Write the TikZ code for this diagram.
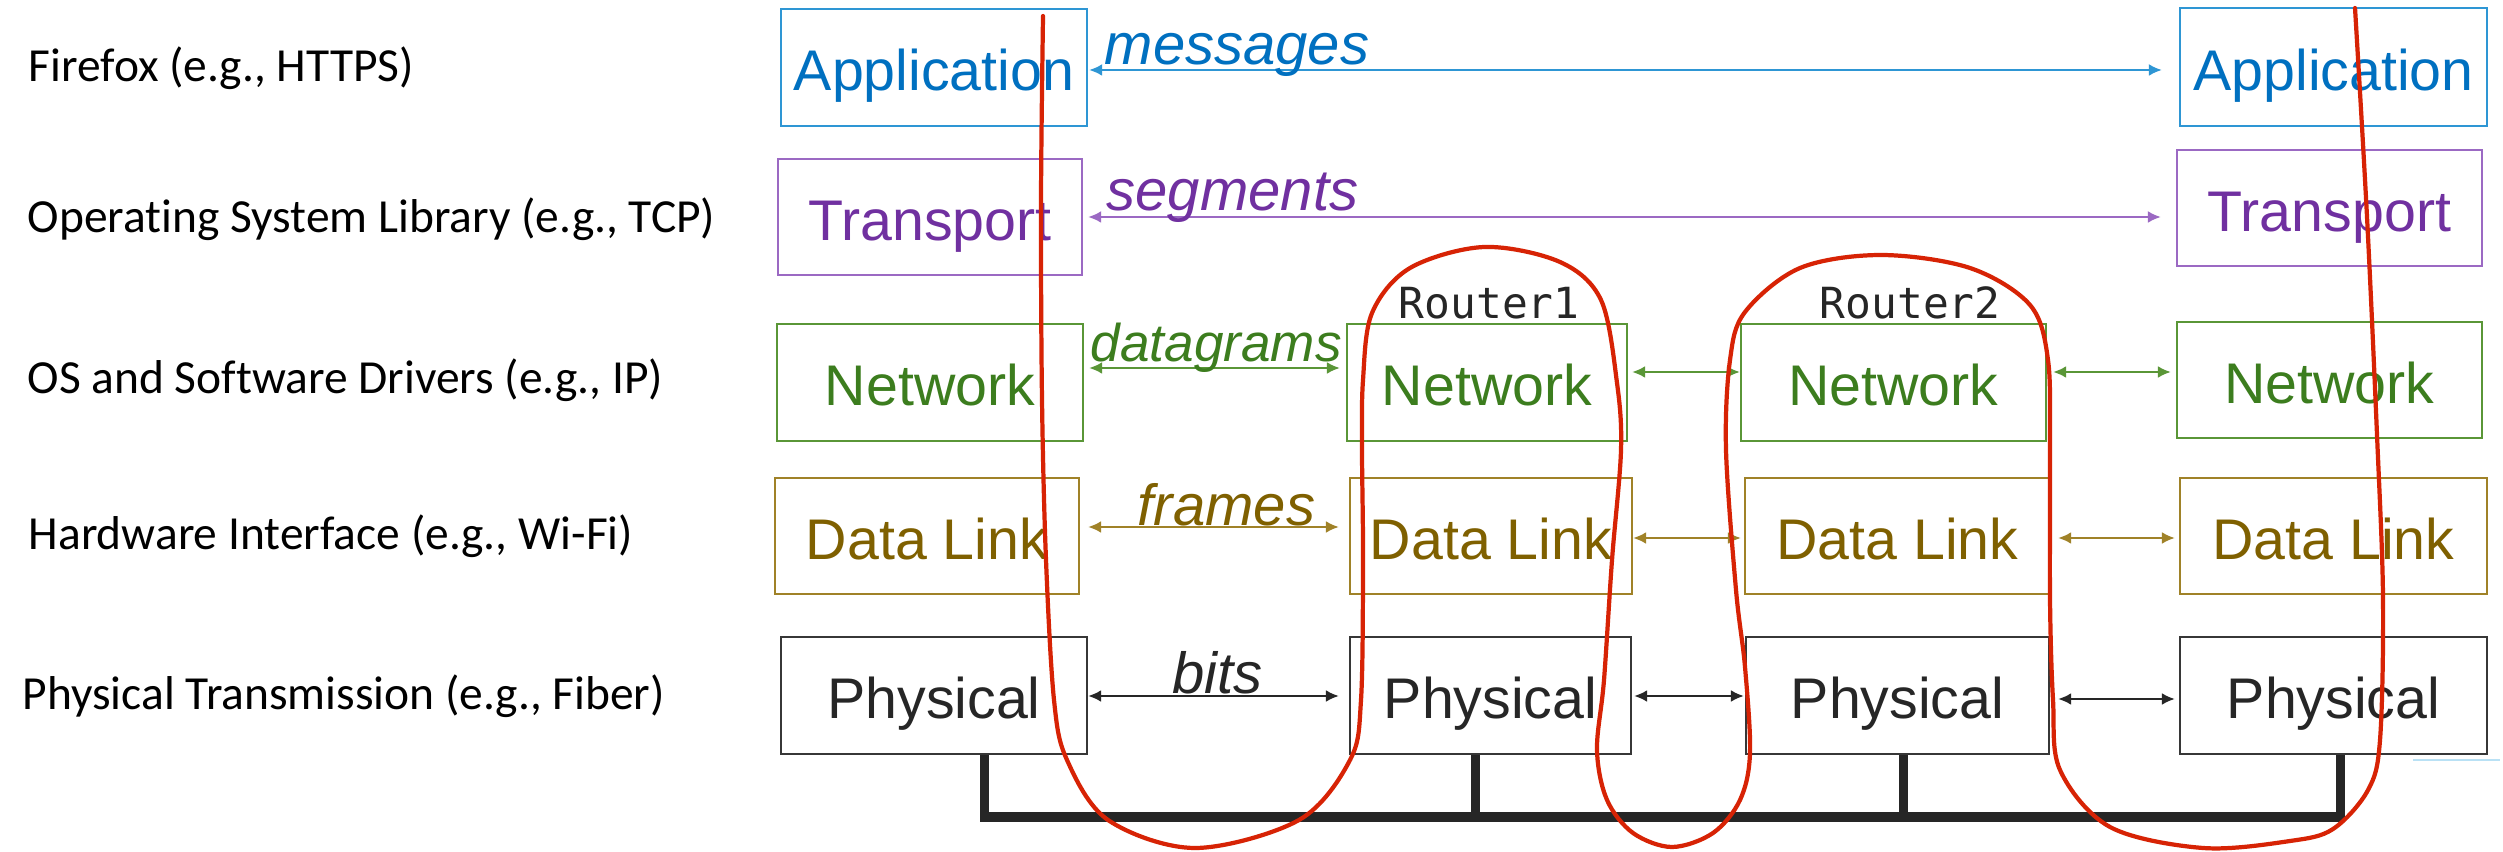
\documentclass[tikz,border=0pt]{standalone}
\usepackage{fontspec}
\setmainfont{Liberation Sans}
\newfontfamily\calfont[Ligatures={NoCommon}]{Carlito}
\newfontfamily\monofont{DejaVu Sans Mono}
\usetikzlibrary{arrows.meta,calc}
\definecolor{appB}{RGB}{46,150,212}
\definecolor{appT}{RGB}{0,112,192}
\definecolor{trB}{RGB}{155,105,195}
\definecolor{trT}{RGB}{112,48,160}
\definecolor{netB}{RGB}{90,150,55}
\definecolor{netT}{RGB}{60,125,30}
\definecolor{dlB}{RGB}{160,130,40}
\definecolor{dlT}{RGB}{127,96,0}
\definecolor{phB}{RGB}{55,55,55}
\definecolor{phT}{RGB}{38,38,38}
\definecolor{loopred}{RGB}{215,35,5}
\definecolor{faintblue}{RGB}{185,225,245}
\begin{document}
\begin{tikzpicture}[x=0.01cm,y=-0.01cm,
  layer/.style={draw, line width=0.6pt, inner sep=0pt, text height=13.2pt, text depth=0pt,
    font=\fontsize{16.3}{19}\selectfont, anchor=center, minimum height=1.17cm},
  appL/.style={layer, draw=appB, text=appT},
  trL/.style={layer, draw=trB, text=trT},
  netL/.style={layer, draw=netB, text=netT},
  dlL/.style={layer, draw=dlB, text=dlT},
  phL/.style={layer, draw=phB, text=phT},
  link/.style={line width=0.65pt, >={Latex[length=3.7pt,width=3.4pt]}, <->},
  lbl/.style={anchor=base west, inner sep=0pt, font=\fontsize{16.5}{19}\selectfont\itshape},
  side/.style={anchor=base west, inner sep=0pt, font=\calfont\fontsize{13.5}{16}\selectfont, text=black},
  rtr/.style={anchor=base west, inner sep=0pt, font=\monofont\fontsize{12.2}{14}\selectfont, text=black!85},
  bus/.style={line width=2.85pt, draw=phT},
  drop/.style={line width=2.56pt, draw=phT},
  redloop/.style={line width=1.2pt, draw=loopred, line cap=round, line join=round}
]
\fill[white] (0,0) rectangle (2503,852);
\useasboundingbox (0,0) rectangle (2503,852);

% side labels
\node[side] (s1) at (28,82) {Firefox (e.g., HTTPS)};
\node[side] (s2) at (27,233) {Operating System Library (e.g., TCP)};
\node[side] (s3) at (27,394) {OS and Software Drivers (e.g., IP)};
\node[side] (s4) at (28,549) {Hardware Interface (e.g., Wi-Fi)};
\node[side] (s5) at (22,709) {Physical Transmission (e.g., Fiber)};

% host 1
\node[appL, minimum width=3.06cm] (A1) at (934,67.5) {Application};
\node[trL, minimum width=3.04cm, minimum height=1.16cm] (T1) at (930,217) {Transport};
\node[netL, minimum width=3.06cm] (N1) at (930,382.5) {Network};
\node[dlL, minimum width=3.04cm, minimum height=1.16cm] (D1) at (927,536) {Data Link};
\node[phL, minimum width=3.06cm] (P1) at (934,695.5) {Physical};

% router 1
\node[netL, minimum width=2.80cm] (N2) at (1487,382.5) {Network};
\node[dlL, minimum width=2.82cm, minimum height=1.16cm] (D2) at (1491,536) {Data Link};
\node[phL, minimum width=2.81cm] (P2) at (1490.5,695.5) {Physical};

% router 2
\node[netL, minimum width=3.05cm] (N3) at (1893.5,382.5) {Network};
\node[dlL, minimum width=3.05cm, minimum height=1.16cm] (D3) at (1897.5,536) {Data Link};
\node[phL, minimum width=3.03cm] (P3) at (1897.5,695.5) {Physical};

% host 2
\node[appL, minimum width=3.07cm, minimum height=1.18cm] (A2) at (2333.5,67) {Application};
\node[trL, minimum width=3.05cm, minimum height=1.16cm] (T2) at (2329.5,208) {Transport};
\node[netL, minimum width=3.05cm, minimum height=1.16cm] (N4) at (2329.5,380) {Network};
\node[dlL, minimum width=3.07cm, minimum height=1.16cm] (D4) at (2333.5,536) {Data Link};
\node[phL, minimum width=3.07cm] (P4) at (2333.5,695.5) {Physical};

% router names
\node[rtr] (r1) at (1398,319) {Router1};
\node[rtr] (r2) at (1819,319) {Router2};

% arrow levels
\coordinate (yM) at (0,70);
\coordinate (yS) at (0,217);
\coordinate (yD) at (0,368);
\coordinate (yN) at (0,372);
\coordinate (yF) at (0,527);
\coordinate (yL) at (0,538);
\coordinate (yB) at (0,696);
\coordinate (yB2) at (0,699);

% connectors
\draw[link, appB] ($(A1.east|-yM)+(1,0)$) -- ($(A2.west|-yM)+(-17,0)$);
\draw[link, trB] ($(T1.east|-yS)+(5,0)$) -- ($(T2.west|-yS)+(-15,0)$);
\draw[link, netB] ($(N1.east|-yD)+(5,0)$) -- ($(N2.west|-yD)+(-6,0)$);
\draw[link, netB] ($(N2.east|-yN)+(4,0)$) -- ($(N3.west|-yN)+(0,0)$);
\draw[link, netB] ($(N3.east|-yN)+(6,0)$) -- ($(N4.west|-yN)+(-5,0)$);
\draw[link, dlB] ($(D1.east|-yF)+(8,0)$) -- ($(D2.west|-yF)+(-10,0)$);
\draw[link, dlB] ($(D2.east|-yL)+(0,0)$) -- ($(D3.west|-yL)+(-3,0)$);
\draw[link, dlB] ($(D3.east|-yL)+(7,0)$) -- ($(D4.west|-yL)+(-4,0)$);
\draw[link, phT] ($(P1.east|-yB)+(0,0)$) -- ($(P2.west|-yB)+(-10,0)$);
\draw[link, phT] ($(P2.east|-yB)+(2,0)$) -- ($(P3.west|-yB)+(-1,0)$);
\draw[link, phT] ($(P3.east|-yB2)+(8,0)$) -- ($(P4.west|-yB2)+(-4,0)$);

% connector labels
\node[lbl, text=appT] (lm) at (1104,65) {messages};
\node[lbl, text=trT] (ls) at (1106,211) {segments};
\node[lbl, text=netT, font=\fontsize{15.1}{18}\selectfont\itshape] (ld) at (1090,362) {datagrams};
\node[lbl, text=dlT] (lf) at (1137,525) {frames};
\node[lbl, text=phT] (lb) at (1172,693) {bits};

% bus
\coordinate (busL) at (980,817);
\coordinate (busR) at (2345,817);
\coordinate (d1) at (984.5,822);
\coordinate (d2) at (1475,822);
\coordinate (d3) at (1903,822);
\coordinate (d4) at (2340.5,822);
\draw[drop] (d1 |- P1.south) -- (d1);
\draw[drop] (d2 |- P2.south) -- (d2);
\draw[drop] (d3 |- P3.south) -- (d3);
\draw[drop] (d4 |- P4.south) -- (d4);
\draw[bus] (busL) -- (busR);

% faint line
\draw[faintblue, line width=0.4pt] (2413,760) -- (2500,760);

% red curve
\draw[redloop] plot[smooth, tension=0.55] coordinates {
 (1043,16) (1041,200) (1042,400) (1046,560) (1054,700) (1067,760) (1108,820) (1195,848)
 (1299,820) (1350,760) (1361,700) (1363,560) (1362,450) (1363,380) (1372,313) (1410,268)
 (1484,247) (1560,262) (1601,300) (1617,383) (1621,450) (1612,560) (1604,680) (1597,750)
 (1607,800) (1633,833) (1672,847) (1713,833) (1740,800) (1750,753) (1745,667) (1736,590)
 (1726,450) (1730,360) (1745,312) (1800,268) (1881,255) (1970,268) (2030,305) (2048,360)
 (2050,450) (2050,600) (2053,700) (2060,770) (2110,827) (2203,848) (2290,841) (2333,829)
 (2368,790) (2380,740) (2383,598) (2377,435) (2367,217) (2355,8)
};
\end{tikzpicture}
\end{document}
